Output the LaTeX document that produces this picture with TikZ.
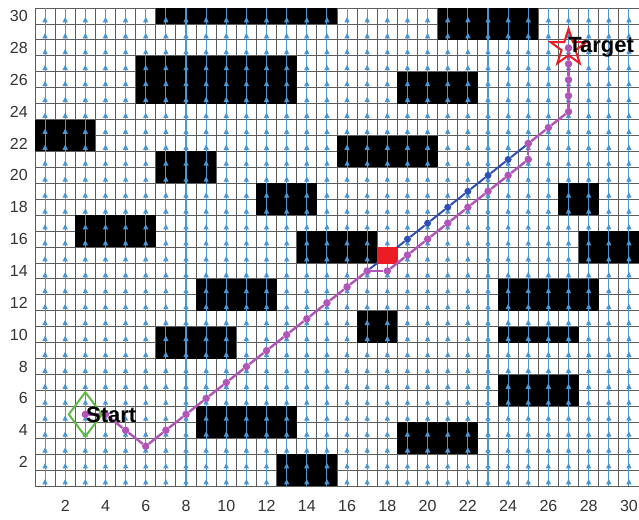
\documentclass[tikz,border=0pt]{standalone}
\usepackage{fontspec}
\setmainfont{Liberation Sans}
\usepackage{tikz}
\usetikzlibrary{arrows.meta,shapes.geometric}
\definecolor{mapgrid}{HTML}{5C5C5C}
\definecolor{mapvec}{HTML}{4A96D4}
\definecolor{mapmag}{HTML}{B155B9}
\definecolor{mapblue}{HTML}{2F4FB5}
\definecolor{mapgreen}{HTML}{5DBB3F}
\definecolor{mapred}{HTML}{EC1C24}
\definecolor{mapaxis}{HTML}{333333}
\tikzset{
  obst/.style={fill=black},
  gridln/.style={draw=mapgrid,line width=1bp},
  vec/.style={draw=mapvec,line width=1.1bp},
  vtip/.style={-{Triangle[length=5.5bp,width=5bp]},draw=mapvec,line width=1.1bp},
  route/.style={draw=mapmag,line width=2.4bp},
  altroute/.style={draw=mapblue,line width=2bp},
  rdot/.style={circle,fill=mapmag,inner sep=0pt,minimum size=7.5bp},
  adot/.style={circle,fill=mapblue,inner sep=0pt,minimum size=7bp},
  ticklbl/.style={font=\fontsize{16bp}{16bp}\selectfont,text=mapaxis,inner sep=0pt},
  lbl/.style={font=\fontsize{22bp}{22bp}\selectfont\bfseries,inner sep=0pt},
}

\begin{document}
\begin{tikzpicture}[x=20.13bp,y=15.93bp]
  \useasboundingbox (-1.2387,-1.5716) rectangle (30.5,31.008);
  \fill[white] (-1.2387,-1.5716) rectangle (30.5,31.008);
  \foreach \k in {0,...,30}{\draw[gridln] (\k+0.5,0.5) -- (\k+0.5,30.5);\draw[gridln] (0.5,\k+0.5) -- (30.5,\k+0.5);}
  \foreach \a/\b/\c/\d in {7/30/15/30,21/29/25/30,6/25/13/27,19/25/22/26,1/22/3/23,7/20/9/21,16/21/20/22,12/18/14/19,27/18/28/19,3/16/6/17,14/15/17/16,28/15/30/16,9/12/12/13,24/12/28/13,17/10/18/11,7/9/10/10,24/10/27/10,24/6/27/7,9/4/13/5,19/3/22/4,13/1/15/2}
    \fill[obst] (\a-0.5,\b-0.5) rectangle (\c+0.5,\d+0.5);
  \foreach \i in {1,...,30}{\draw[vec] (\i,0.5) -- (\i,30.5);
    \foreach \j in {1,...,30}\draw[vtip] (\i,\j-0.4) -- (\i,\j-0.05);}
  \foreach \v in {2,4,...,30}{\node[ticklbl,anchor=east] (yl\v) at (0.15,\v) {\v};\node[ticklbl] (xl\v) at (\v,-0.76) {\v};}
  \foreach \p/\q [count=\n] in {17/14,18/15,19/16,20/17,21/18,22/19,23/20,24/21,25/22}
    \node[adot] (a\n) at (\p,\q) {};
  \foreach \n [remember=\n as \m (initially 1)] in {2,...,9}\draw[altroute] (a\m) -- (a\n);
  \node[fill=mapred,minimum width=20bp,minimum height=17bp,inner sep=0pt] (obs) at (18,15) {};
  \foreach \p/\q [count=\n] in {3/5,4/5,5/4,6/3,7/4,8/5,9/6,10/7,11/8,12/9,13/10,14/11,15/12,16/13,17/14,18/14,19/15,20/16,21/17,22/18,23/19,24/20,25/21,25/22,26/23,27/24,27/25,27/26,27/27,27/28}
    \node[rdot] (r\n) at (\p,\q) {};
  \foreach \n [remember=\n as \m (initially 1)] in {2,...,30}\draw[route] (r\m) -- (r\n);
  \node[diamond,draw=mapgreen,line width=2bp,minimum width=34bp,minimum height=45bp,inner sep=0pt] (start) at (3,5) {};
  \node[star,star points=5,star point ratio=2.6,draw=mapred,line width=2bp,minimum size=38bp,inner sep=0pt] (goal) at (27,28) {};
  \node[lbl,anchor=base west] (startlbl) at (3.03,4.52) {Start};
  \node[lbl,anchor=base west] (goallbl) at (26.98,27.74) {Target};
\end{tikzpicture}
\end{document}
